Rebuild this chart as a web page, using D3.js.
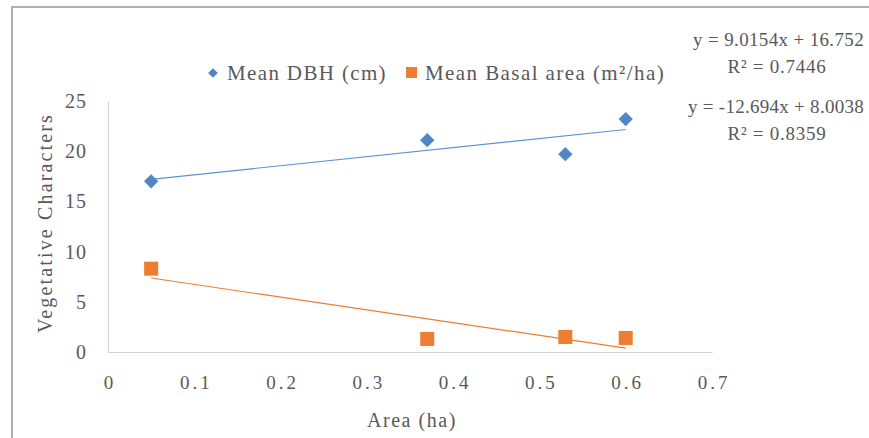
<!DOCTYPE html>
<html><head><meta charset="utf-8">
<script src="https://cdn.jsdelivr.net/npm/d3@7"></script>
<style>
body{margin:0;background:#fff;}
svg text{font-family:"Liberation Serif","Times New Roman",serif;fill:#595959;}
</style></head>
<body>
<svg id="c" width="869" height="438"></svg>
<script>
const areas = [0.05, 0.37, 0.53, 0.6];
const meanDBH = [17.0, 21.1, 19.7, 23.2];
const meanBasal = [8.3, 1.3, 1.5, 1.4];
const xTicks = [0, 0.1, 0.2, 0.3, 0.4, 0.5, 0.6, 0.7];
const yTicks = [0, 5, 10, 15, 20, 25];
const seriesNames = ["Mean DBH (cm)", "Mean Basal area (m²/ha)"];
const trendDBH = {slope: 9.0154, intercept: 16.752, r2: "0.7446"};
const trendBasal = {slope: -12.694, intercept: 8.0038, r2: "0.8359"};

const svg = d3.select("#c");
const blue = "#4f87c6", orange = "#ed7d31";
const x = d3.scaleLinear().domain([0, 0.7]).range([108, 712]);
const y = d3.scaleLinear().domain([0, 25]).range([352, 101]);

// fit a text element to a target width by letter-spacing
function fit(sel, w) {
  const n = sel.text().length;
  const nat = sel.node().getComputedTextLength();
  sel.attr("letter-spacing", ((w - nat) / n).toFixed(2) + "px");
  return sel;
}

// outer frame
svg.append("rect").attr("x", 12).attr("y", 7).attr("width", 870).attr("height", 450)
  .attr("fill", "none").attr("stroke", "#b0b0b0").attr("stroke-width", 2);

// axes
const xa = svg.append("g").attr("transform", `translate(0,${y(0)})`)
  .call(d3.axisBottom(x).tickValues(xTicks).tickSize(0).tickPadding(24).tickFormat(d => d === 0 ? "0" : d3.format(".1f")(d)));
xa.select(".domain").attr("stroke", "#d0d0d0");
xa.attr("font-family", null).attr("font-size", null);
xa.selectAll("text").attr("font-size", 19).attr("fill", "#595959").attr("letter-spacing", "3px").attr("dx", "1.5px");
const ya = svg.append("g").attr("transform", `translate(${x(0)},0)`)
  .call(d3.axisLeft(y).tickValues(yTicks).tickSize(0).tickPadding(21));
ya.select(".domain").attr("stroke", "#d0d0d0");
ya.attr("font-family", null).attr("font-size", null);
ya.selectAll("text").attr("font-size", 20).attr("fill", "#595959").attr("letter-spacing", "1px");

// axis titles
fit(svg.append("text").attr("x", 412).attr("y", 427).attr("text-anchor", "middle")
  .attr("font-size", 20).text("Area (ha)"), 90);
fit(svg.append("text").attr("transform", "translate(52,223) rotate(-90)").attr("text-anchor", "middle")
  .attr("font-size", 20).text("Vegetative Characters"), 220);

// trendlines
function trend(t, color) {
  const xs = d3.extent(areas);
  svg.append("line")
    .attr("x1", x(xs[0])).attr("y1", y(t.slope * xs[0] + t.intercept))
    .attr("x2", x(xs[1])).attr("y2", y(t.slope * xs[1] + t.intercept))
    .attr("stroke", color).attr("stroke-width", 1.2);
}
trend(trendDBH, "#5a95cf");
trend(trendBasal, orange);

// points
const diamond = d3.symbol().type(d3.symbolDiamond2).size(130);
svg.selectAll(".dbh").data(areas.map((a, i) => [a, meanDBH[i]])).enter().append("path")
  .attr("d", diamond).attr("transform", d => `translate(${x(d[0])},${y(d[1])})`)
  .attr("fill", blue);
svg.selectAll(".ba").data(areas.map((a, i) => [a, meanBasal[i]])).enter().append("rect")
  .attr("x", d => x(d[0]) - 7).attr("y", d => y(d[1]) - 7).attr("width", 14).attr("height", 14)
  .attr("fill", orange);

// legend
svg.append("path").attr("d", d3.symbol().type(d3.symbolDiamond2).size(60))
  .attr("transform", "translate(213,73)").attr("fill", blue);
fit(svg.append("text").attr("x", 227).attr("y", 80).attr("font-size", 21).text(seriesNames[0]), 160);
svg.append("rect").attr("x", 406).attr("y", 67).attr("width", 11).attr("height", 11).attr("fill", orange);
fit(svg.append("text").attr("x", 425).attr("y", 80).attr("font-size", 21).text(seriesNames[1]), 240);

// equations
const eq = t => `y = ${t.slope}x + ${t.intercept}`;
fit(svg.append("text").attr("x", 864).attr("y", 46).attr("text-anchor", "end").attr("font-size", 19)
  .text(eq(trendDBH)), 171);
fit(svg.append("text").attr("x", 777).attr("y", 73).attr("text-anchor", "middle").attr("font-size", 19)
  .text(`R² = ${trendDBH.r2}`), 99);
fit(svg.append("text").attr("x", 864).attr("y", 113).attr("text-anchor", "end").attr("font-size", 19)
  .text(eq(trendBasal)), 176);
fit(svg.append("text").attr("x", 777).attr("y", 140).attr("text-anchor", "middle").attr("font-size", 19)
  .text(`R² = ${trendBasal.r2}`), 99);
</script>
</body></html>
